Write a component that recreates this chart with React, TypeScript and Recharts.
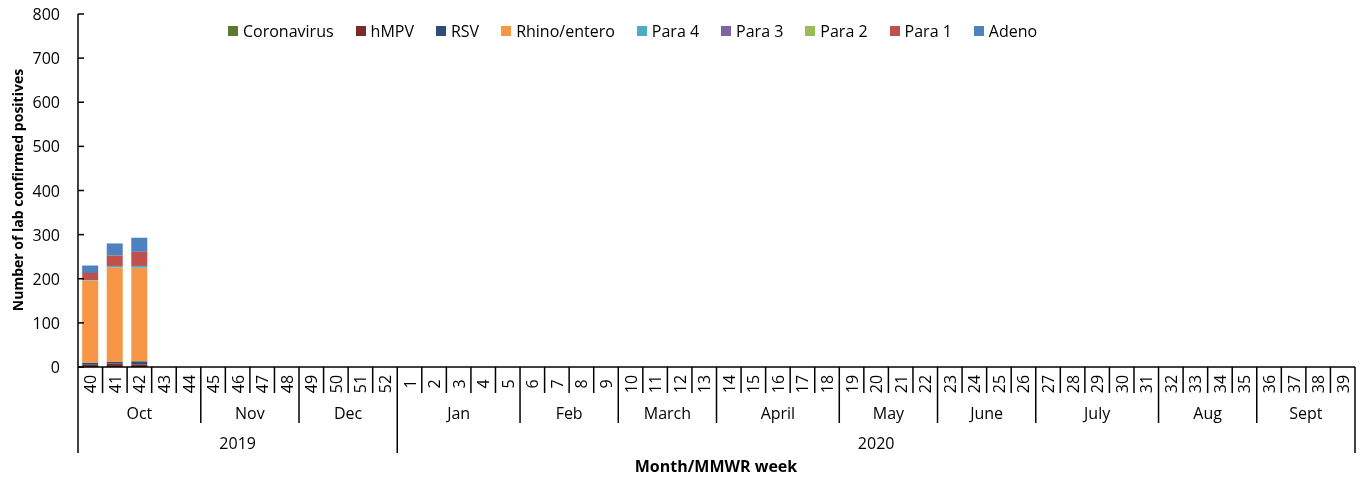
import React from "react";
import { BarChart, Bar, XAxis, YAxis } from "recharts";

const weeks = [
  40, 41, 42, 43, 44, 45, 46, 47, 48, 49, 50, 51, 52,
  1, 2, 3, 4, 5, 6, 7, 8, 9, 10, 11, 12, 13, 14, 15, 16, 17, 18, 19, 20,
  21, 22, 23, 24, 25, 26, 27, 28, 29, 30, 31, 32, 33, 34, 35, 36, 37, 38, 39,
];

const monthNames = ["Oct", "Nov", "Dec", "Jan", "Feb", "March", "April", "May", "June", "July", "Aug", "Sept"];
const weeksPerMonth = [5, 4, 4, 5, 4, 4, 5, 4, 4, 5, 4, 4];
const yearNames = ["2019", "2020"];
const weeksPerYear = [13, 39];

const coronavirus = [0, 0, 0];
const hmpv = [5, 8, 6];
const rsv = [5, 4, 7];
const rhino = [185, 214, 212];
const para4 = [1, 3, 4];
const para3 = [0, 0, 0];
const para2 = [1, 0, 0];
const para1 = [16, 24, 32];
const adeno = [17, 27, 32];

const yTicks = [0, 100, 200, 300, 400, 500, 600, 700, 800];

const series = [
  { key: "coronavirus", name: "Coronavirus", color: "#5B7A2E", values: coronavirus },
  { key: "hmpv", name: "hMPV", color: "#772C2A", values: hmpv },
  { key: "rsv", name: "RSV", color: "#2C4D75", values: rsv },
  { key: "rhino", name: "Rhino/entero", color: "#F79646", values: rhino },
  { key: "para4", name: "Para 4", color: "#4BACC6", values: para4 },
  { key: "para3", name: "Para 3", color: "#8064A2", values: para3 },
  { key: "para2", name: "Para 2", color: "#9BBB59", values: para2 },
  { key: "para1", name: "Para 1", color: "#C0504D", values: para1 },
  { key: "adeno", name: "Adeno", color: "#4F81BD", values: adeno },
];

// expand group sizes into start index -> {label, count}
function groupStarts(names: string[], counts: number[]) {
  const out: Record<number, { label: string; count: number }> = {};
  let i = 0;
  names.forEach((n, k) => {
    out[i] = { label: n, count: counts[k] };
    i += counts[k];
  });
  return out;
}
const monthStarts = groupStarts(monthNames, weeksPerMonth);
const yearStarts = groupStarts(yearNames, weeksPerYear);

const data = weeks.map((w, i) => {
  const row: Record<string, number | string> = { week: String(w) };
  series.forEach((s) => {
    row[s.key] = s.values[i] ?? 0;
  });
  return row;
});

const W = 1359;
const H = 477;
const M = { top: 14, right: 4, left: 0, bottom: 0 };
const Y_W = 78;
const BW = (W - M.left - M.right - Y_W) / weeks.length;
const FONT = "'Open Sans', sans-serif";

function WeekTick(props: any) {
  const { x, y, index, payload } = props;
  const left = x - BW / 2;
  const isMonth = monthStarts[index];
  const isYear = yearStarts[index];
  const sepLen = isYear ? 86 : isMonth ? 56 : 26;
  const last = index === weeks.length - 1;
  return (
    <g>
      <line x1={left} y1={y} x2={left} y2={y + sepLen} stroke="#000" strokeWidth={1.5} />
      {last && <line x1={x + BW / 2} y1={y} x2={x + BW / 2} y2={y + 86} stroke="#000" strokeWidth={1.5} />}
      <text
        x={x}
        y={y + 17}
        transform={`rotate(-90 ${x} ${y + 17})`}
        textAnchor="middle"
        dominantBaseline="central"
        fontSize={16}
        fill="#000"
      >
        {payload.value}
      </text>
      {isMonth && (
        <text x={left + (isMonth.count * BW) / 2} y={y + 46} textAnchor="middle" dominantBaseline="central" fontSize={16} fill="#000">
          {isMonth.label}
        </text>
      )}
      {isYear && (
        <text x={left + (isYear.count * BW) / 2} y={y + 76} textAnchor="middle" dominantBaseline="central" fontSize={16} fill="#000">
          {isYear.label}
        </text>
      )}
    </g>
  );
}

function ValueTick(props: any) {
  const { x, y, payload } = props;
  return (
    <g>
      <line x1={x + 18} y1={y} x2={x + 24} y2={y} stroke="#000" strokeWidth={1.5} />
      <text x={x} y={y} textAnchor="end" dominantBaseline="central" fontSize={16} fill="#000">
        {payload.value}
      </text>
    </g>
  );
}

export default function App() {
  return (
    <div style={{ position: "fixed", top: 0, left: 0, width: W, height: H, fontFamily: FONT }}>
      <BarChart width={W} height={H} data={data} margin={M} barCategoryGap="17%">
        <XAxis
          dataKey="week"
          interval={0}
          height={110}
          tickSize={0}
          tickMargin={0}
          tickLine={false}
          tick={<WeekTick />}
          axisLine={{ stroke: "#000", strokeWidth: 1.5 }}
        />
        <YAxis
          width={Y_W}
          domain={[0, 800]}
          ticks={yTicks}
          interval={0}
          tickSize={0}
          tickMargin={18}
          tickLine={false}
          tick={<ValueTick />}
          axisLine={{ stroke: "#000", strokeWidth: 1.5 }}
        />
        {series.map((s) => (
          <Bar key={s.key} dataKey={s.key} name={s.name} stackId="a" fill={s.color} isAnimationActive={false} />
        ))}
      </BarChart>

      <div
        style={{
          position: "absolute",
          top: 20,
          left: 228,
          display: "flex",
          gap: 22,
          fontSize: 16,
          color: "#000",
          whiteSpace: "nowrap",
        }}
      >
        {series.map((s) => (
          <div key={s.key} style={{ display: "flex", alignItems: "center" }}>
            <span style={{ display: "inline-block", width: 10, height: 10, background: s.color, marginRight: 5 }} />
            {s.name}
          </div>
        ))}
      </div>

      <div
        style={{
          position: "absolute",
          left: 17,
          top: 190,
          transform: "translate(-50%, -50%) rotate(-90deg)",
          fontSize: 14,
          fontWeight: "bold",
          whiteSpace: "nowrap",
          color: "#000",
        }}
      >
        Number of lab confirmed positives
      </div>
      <div
        style={{
          position: "absolute",
          left: 716,
          top: 466,
          transform: "translate(-50%, -50%)",
          fontSize: 16,
          fontWeight: "bold",
          whiteSpace: "nowrap",
          color: "#000",
        }}
      >
        Month/MMWR week
      </div>
    </div>
  );
}
